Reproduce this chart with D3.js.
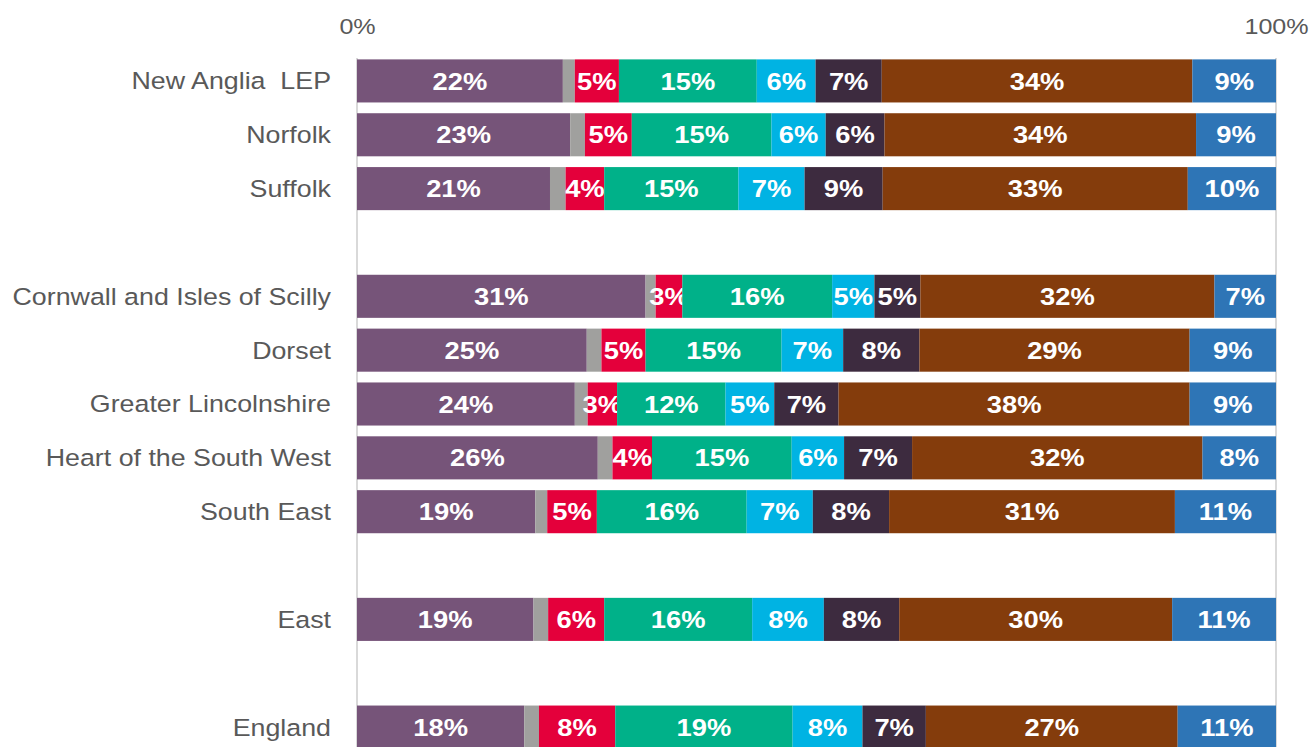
<!DOCTYPE html>
<html>
<head>
<meta charset="utf-8">
<script src="https://cdn.jsdelivr.net/npm/d3@7"></script>
<style>
  body { margin: 0; background: #fff; }
  svg { display: block; font-family: "Liberation Sans", Arial, sans-serif; }
  text { white-space: pre; }
</style>
</head>
<body>
<figure id="chart" style="margin:0"></figure>
<script>
// rows top to bottom; '' entries are blank spacer rows
const slots = ['New Anglia LEP', 'Norfolk', 'Suffolk', '',
  'Cornwall and Isles of Scilly', 'Dorset', 'Greater Lincolnshire',
  'Heart of the South West', 'South East', '', 'East', '', 'England'];

const categories = ['New Anglia LEP', 'Norfolk', 'Suffolk', 'Cornwall and Isles of Scilly',
  'Dorset', 'Greater Lincolnshire', 'Heart of the South West', 'South East', 'East', 'England'];

const seriesKeys = ['s1', 's2', 's3', 's4', 's5', 's6', 's7', 's8'];

const s1 = [22.4, 23.2, 21.0, 31.4, 25.0, 23.7, 26.2, 19.4, 19.2, 18.2];
const s2 = [1.3, 1.6, 1.7, 1.1, 1.6, 1.4, 1.6, 1.3, 1.6, 1.6];
const s3 = [4.8, 5.1, 4.2, 2.9, 4.8, 3.2, 4.3, 5.4, 6.1, 8.3];
const s4 = [15.0, 15.2, 14.6, 16.3, 14.8, 11.8, 15.2, 16.3, 16.1, 19.3];
const s5 = [6.4, 5.9, 7.2, 4.6, 6.7, 5.3, 5.7, 7.2, 7.8, 7.6];
const s6 = [7.2, 6.4, 8.5, 5.0, 8.3, 7.0, 7.4, 8.3, 8.2, 6.9];
const s7 = [33.8, 33.9, 33.2, 32.0, 29.4, 38.2, 31.6, 31.1, 29.7, 27.4];
const s8 = [9.1, 8.7, 9.6, 6.7, 9.4, 9.4, 8.0, 11.0, 11.3, 10.7];

const tickValues = [0, 100];

const colors = ['#765479', '#a0a09e', '#e4003b', '#00b189', '#00b3e3', '#3d2b3f', '#843c0c', '#2e75b6'];
const labelled = [true, false, true, true, true, true, true, true];

const seriesValues = [s1, s2, s3, s4, s5, s6, s7, s8];
const rows = categories.map((c, i) => {
  const r = { name: c };
  seriesKeys.forEach((k, j) => { r[k] = seriesValues[j][i]; });
  return r;
});

const width = 1312, height = 747;
const stretch = 1.14; // source text is rendered a bit wide
const svg = d3.select('figure#chart').append('svg')
  .attr('width', width).attr('height', height);

const x = d3.scaleLinear().domain([0, 100]).range([357, 1276]);
const y = d3.scaleBand()
  .domain(slots.map((s, i) => i))
  .range([54, 754])
  .paddingInner(0.2)
  .paddingOuter(0.1);
const rowY = name => y(slots.indexOf(name));

// edge gridlines at 0% and 100%
svg.append('g').selectAll('line')
  .data(tickValues)
  .enter().append('line')
  .attr('x1', d => x(d)).attr('x2', d => x(d))
  .attr('y1', 58).attr('y2', height)
  .attr('stroke', '#d9d9d9').attr('stroke-width', 2);

const stacked = d3.stack().keys(seriesKeys)(rows);

const layers = svg.append('g').selectAll('g')
  .data(stacked)
  .enter().append('g')
  .attr('fill', (d, i) => colors[i]);

layers.selectAll('rect')
  .data(d => d)
  .enter().append('rect')
  .attr('x', d => x(d[0]))
  .attr('y', d => rowY(d.data.name))
  .attr('width', d => x(d[1]) - x(d[0]))
  .attr('height', y.bandwidth());

layers.filter((d, i) => labelled[i])
  .selectAll('text')
  .data(d => d)
  .enter().append('text')
  .attr('transform', d => 'translate(' + (x(d[0]) + x(d[1])) / 2 + ',' +
    (rowY(d.data.name) + y.bandwidth() / 2) + ') scale(' + stretch + ',1)')
  .attr('dy', '0.36em')
  .attr('text-anchor', 'middle')
  .attr('fill', '#fff')
  .style('font-size', '24px')
  .style('font-weight', 'bold')
  .text(d => Math.round(d[1] - d[0]) + '%');

// category labels
svg.append('g').selectAll('text')
  .data(categories)
  .enter().append('text')
  .attr('transform', d => 'translate(331,' + (rowY(d) + y.bandwidth() / 2) + ') scale(' + stretch + ',1)')
  .attr('dy', '0.36em')
  .attr('text-anchor', 'end')
  .attr('fill', '#595959')
  .style('font-size', '23.5px')
  .text(d => d.replace('Anglia LEP', 'Anglia  LEP'));

// top axis
const axis = svg.append('g')
  .attr('transform', 'translate(0,34)')
  .call(d3.axisTop(x).tickValues(tickValues).tickSize(0).tickPadding(0).tickFormat(d => d + '%'));
axis.select('.domain').remove();
axis.selectAll('text')
  .attr('fill', '#595959')
  .attr('transform', 'scale(' + stretch + ',1)')
  .style('font-size', '22px')
  .style('font-family', '"Liberation Sans", Arial, sans-serif');
</script>
</body>
</html>
